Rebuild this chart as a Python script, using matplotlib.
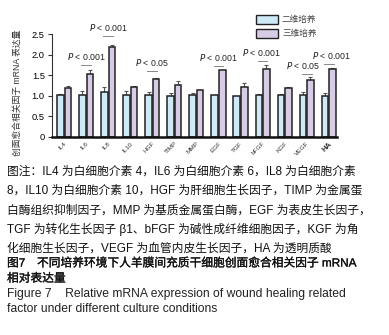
import matplotlib
matplotlib.use('Agg')

import numpy as np
import matplotlib.pyplot as plt
import matplotlib.patheffects as pe
from matplotlib.ticker import FuncFormatter
from matplotlib.patches import Rectangle

plt.rcParams['font.family'] = ['Liberation Sans', 'Noto Sans CJK SC', 'DejaVu Sans']

factors = ['IL4', 'IL6', 'IL8', 'IL10', 'HGF', 'TIMP', 'MMP', 'EGF',
           'TGF', 'bFGF', 'KGF', 'VEGF', 'HA']
mean_2d = [1.02, 1.02, 1.08, 1.02, 1.02, 1.00, 1.01, 1.01, 0.99, 1.01, 1.02, 1.01, 1.00]
err_2d = [0.02, 0.10, 0.14, 0.10, 0.08, 0.07, 0.06, 0.01, 0.01, 0.03, 0.03, 0.08, 0.06]
mean_3d = [1.18, 1.54, 2.19, 1.22, 1.40, 1.26, 1.13, 1.62, 1.20, 1.65, 1.19, 1.39, 1.64]
err_3d = [0.06, 0.08, 0.05, 0.02, 0.03, 0.11, 0.01, 0.01, 0.10, 0.11, 0.03, 0.06, 0.03]
legend_labels = [u'二维培养', u'三维培养']

# significance marks: factor -> (text, height of the short line, text shift)
sig = {
    'IL6': (u'P < 0.001', 1.75, 0.0),
    'IL8': (u'P < 0.001', 2.46, 0.0),
    'HGF': (u'P < 0.05', 1.60, 0.0),
    'EGF': (u'P < 0.001', 1.73, 0.0),
    'bFGF': (u'P < 0.001', 1.85, -0.05),
    'VEGF': (u'P < 0.05', 1.54, -0.18),
    'HA': (u'P < 0.001', 1.77, 0.1),
}

caption = [
    u'图注：IL4 为白细胞介素 4，IL6 为白细胞介素 6，IL8 为白细胞介素',
    u'8，IL10 为白细胞介素 10，HGF 为肝细胞生长因子，TIMP 为金属蛋',
    u'白酶组织抑制因子，MMP 为基质金属蛋白酶，EGF 为表皮生长因子，',
    u'TGF 为转化生长因子 β1、bFGF 为碱性成纤维细胞因子，KGF 为角',
    u'化细胞生长因子，VEGF 为血管内皮生长因子，HA 为透明质酸',
]
title_cn = [u'图7\u3000不同培养环境下人羊膜间充质干细胞创面愈合相关因子 mRNA',
            u'相对表达量']
title_en = [u'Figure 7    Relative mRNA expression of wound healing related',
            u'factor under different culture conditions']

c_2d = '#cdeaf6'
c_3d = '#d8cbe6'

fig = plt.figure(figsize=(3.89, 3.35), dpi=100)
ax = fig.add_axes([0.133, 0.592, 0.733, 0.306])

x = np.arange(len(factors))
w = 0.30
off = 0.17
ax.bar(x - off, mean_2d, w, color=c_2d, edgecolor='#222222', linewidth=1.1, zorder=2)
ax.bar(x + off, mean_3d, w, color=c_3d, edgecolor='#222222', linewidth=1.1, zorder=2)
ax.errorbar(x - off, mean_2d, yerr=[np.zeros(len(x)), err_2d], fmt='none',
            ecolor='#555555', elinewidth=0.8, capsize=1.6, capthick=0.8, zorder=1)
ax.errorbar(x + off, mean_3d, yerr=[np.zeros(len(x)), err_3d], fmt='none',
            ecolor='#555555', elinewidth=0.8, capsize=1.6, capthick=0.8, zorder=1)

for name, (txt, h, dx) in sig.items():
    i = factors.index(name)
    ax.plot([i - 0.22, i + 0.22], [h, h], color='#888888', lw=0.7, clip_on=False)
    ax.text(i + dx, h + 0.07, r'$\it{P}$' + txt[1:], ha='center', va='bottom',
            fontsize=6.3, color='#222222', clip_on=False)

ax.set_xlim(-0.56, 12.37)
ax.set_ylim(0, 2.5)
ax.set_yticks([0, 0.5, 1.0, 1.5, 2.0, 2.5])
ax.yaxis.set_major_formatter(FuncFormatter(lambda v, p: '0' if v == 0 else '%.1f' % v))
ax.tick_params(axis='y', labelsize=6.7, length=3, width=0.8, color='#333333', pad=2)
ax.set_xticks(x)
ax.set_xticklabels(factors, rotation=45, ha='right', rotation_mode='anchor', fontsize=4.6,
                   color='#333333')
ax.get_xticklabels()[-1].set_fontweight('bold')
ax.get_xticklabels()[-1].set_fontsize(5.5)
ax.tick_params(axis='x', length=0, pad=3)
for s in ['top', 'right']:
    ax.spines[s].set_visible(False)
ax.spines['bottom'].set_linewidth(1.8)
ax.spines['bottom'].set_color('#111111')
ax.spines['left'].set_linewidth(0.8)
ax.spines['left'].set_color('#333333')

fig.text(17 / 389., 1 - 93 / 335., u'创面愈合相关因子 mRNA 表达量', rotation=90,
         ha='center', va='center', fontsize=6.3, color='#333333')

for k, (lab, col) in enumerate(zip(legend_labels, [c_2d, c_3d])):
    y0 = 1 - (24 + 14 * k) / 335.
    fig.patches.append(Rectangle((256 / 389., y0), 22 / 389., 9 / 335., transform=fig.transFigure,
                                 facecolor=col, edgecolor='#222222', linewidth=1.0))
    fig.text(282 / 389., y0 + 4.5 / 335., lab, ha='left', va='center', fontsize=6.2,
             color='#444444')

for k, line in enumerate(caption):
    fig.text(7 / 389., 1 - (171.5 + 19.3 * k) / 335., line, ha='left', va='center',
             fontsize=8.45, color='#111111')
for k, line in enumerate(title_cn):
    fig.text(7 / 389., 1 - (263.5 + 15.3 * k) / 335., line, ha='left', va='center',
             fontsize=8.45, color='#111111',
             path_effects=[pe.withStroke(linewidth=0.2, foreground='#111111')])
for k, line in enumerate(title_en):
    fig.text(7 / 389., 1 - (294.3 + 15 * k) / 335., line, ha='left', va='center',
             fontsize=8.7, color='#222222')

fig.savefig('out.png', dpi=100, facecolor='white')
